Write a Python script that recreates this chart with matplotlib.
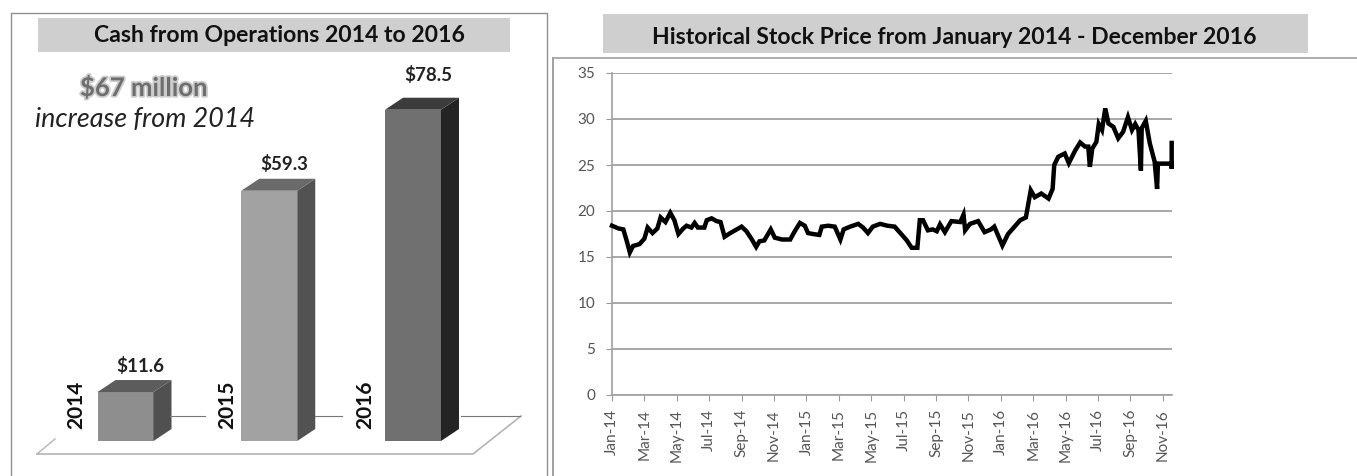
import matplotlib
matplotlib.use('Agg')
import matplotlib.pyplot as plt
import matplotlib.patheffects as pe
from matplotlib.patches import Polygon, Rectangle
from matplotlib.lines import Line2D

W, H = 1357, 476
plt.rcParams['font.family'] = ['Lato', 'DejaVu Sans']

# cash from operations, $ million
years = ['2014', '2015', '2016']
cash = [11.6, 59.3, 78.5]
cash_labels = ['$11.6', '$59.3', '$78.5']

# stock price, x is months since Jan-14
months = [0.0, 0.4, 0.7, 0.9, 1.1, 1.3, 1.7, 2.0, 2.2, 2.5, 2.8, 3.0, 3.3, 3.6, 3.85, 4.1,
          4.4, 4.6, 4.9, 5.1, 5.3, 5.7, 5.85, 6.15, 6.45, 6.7, 6.95, 7.3, 7.7, 8.0, 8.3, 8.6,
          8.9, 9.1, 9.4, 9.8, 10.05, 10.5, 11.0, 11.25, 11.6, 11.9, 12.1, 12.4, 12.8, 12.95,
          13.35, 13.75, 14.1, 14.3, 14.7, 15.2, 15.5, 15.8, 16.1, 16.55, 17.0, 17.45, 17.9,
          18.2, 18.5, 18.85, 19.0, 19.2, 19.5, 19.8, 20.05, 20.25, 20.55, 20.95, 21.5, 21.7,
          21.8, 22.1, 22.6, 23.0, 23.4, 23.6, 24.1, 24.45, 24.9, 25.2, 25.55, 25.85, 26.1,
          26.5, 26.95, 27.2, 27.3, 27.55, 27.95, 28.2, 28.6, 28.9, 29.2, 29.4, 29.5, 29.65,
          29.9, 30.05, 30.25, 30.45, 30.65, 30.95, 31.25, 31.55, 31.85, 32.1, 32.3, 32.5,
          32.65, 32.7, 32.95, 33.2, 33.5, 33.65, 33.7, 34.55, 34.55, 34.55]
price = [18.4, 18.1, 18.0, 16.8, 15.5, 16.2, 16.4, 17.0, 18.2, 17.6, 18.1, 19.3, 18.8, 19.8, 19.0, 17.5,
         18.1, 18.4, 18.2, 18.7, 18.2, 18.2, 19.0, 19.2, 18.9, 18.8, 17.2, 17.6, 18.0, 18.3, 17.8, 17.0,
         16.1, 16.7, 16.8, 18.0, 17.1, 16.9, 16.9, 17.7, 18.7, 18.4, 17.6, 17.5, 17.4, 18.3,
         18.4, 18.3, 16.9, 18.0, 18.3, 18.6, 18.2, 17.6, 18.3, 18.6, 18.4, 18.3, 17.4,
         16.8, 16.0, 16.0, 19.0, 19.0, 17.9, 18.0, 17.8, 18.55, 17.7, 18.9, 18.8, 19.6,
         17.9, 18.6, 18.9, 17.7, 18.0, 18.3, 16.25, 17.5, 18.4, 19.0, 19.3, 22.25, 21.5,
         21.9, 21.35, 22.4, 25.0, 25.9, 26.25, 25.2, 26.6, 27.45, 27.0, 27.0, 24.8, 26.8,
         27.5, 29.45, 28.8, 31.15, 29.5, 29.15, 27.9, 28.6, 30.2, 28.8, 29.45, 28.8,
         24.4, 29.0, 29.8, 27.35, 25.35, 22.4, 25.15, 25.15, 24.6, 27.4]
month_ticks = ['Jan-14', 'Mar-14', 'May-14', 'Jul-14', 'Sep-14', 'Nov-14',
               'Jan-15', 'Mar-15', 'May-15', 'Jul-15', 'Sep-15', 'Nov-15',
               'Jan-16', 'Mar-16', 'May-16', 'Jul-16', 'Sep-16', 'Nov-16']
price_ticks = [0, 5, 10, 15, 20, 25, 30, 35]


def axes_at(left, top, right, bottom):
    # axes from pixel box
    return fig.add_axes([left / W, 1 - bottom / H, (right - left) / W, (bottom - top) / H])


def fx(x):
    return x / W


def fy(y):
    return 1 - y / H


def fig_line(xs, ys, color='#8c8c8c', lw=1.0, zorder=1):
    fig.add_artist(Line2D([fx(x) for x in xs], [fy(y) for y in ys], color=color, lw=lw, zorder=zorder))


fig = plt.figure(figsize=(W / 100, H / 100), dpi=100, facecolor='white')

# title bars
for x0, y0, x1, y1 in [(38, 18, 510, 52), (603, 14, 1308, 53)]:
    fig.add_artist(Rectangle((fx(x0), fy(y1)), (x1 - x0) / W, (y1 - y0) / H, transform=fig.transFigure,
                             facecolor='#cfcfcf', edgecolor='none', zorder=2))
fig.text(fx(279), fy(36), 'Cash from Operations 2014 to 2016', ha='center', va='center',
         fontsize=16.6, fontweight='bold', color='#111111', zorder=3)
fig.text(fx(954), fy(37), 'Historical Stock Price from January 2014 - December 2016', ha='center', va='center',
         fontsize=16.6, fontweight='bold', color='#111111', zorder=3)

# frames
fig_line([11, 11, 547, 547], [476, 13, 13, 476], color='#909090', lw=1.0)
fig_line([553, 553], [476, 58], color='#909090', lw=1.2)
fig_line([553, 1357], [58, 58], color='#a0a0a0', lw=1.2)

# left chart
px_unit = 4.22
px_cat = 143.75
ax = axes_at(11, 13, 547, 476)
ax.set_xlim((11 - 125.5) / px_cat, (547 - 125.5) / px_cat)
ax.set_ylim((441 - 476) / px_unit, (441 - 13) / px_unit)
ax.axis('off')
ax.patch.set_alpha(0)

# floor
fig_line([37, 473, 521], [454, 454, 416], color='#b4b4b4', lw=1.2)
fig_line([37, 55], [454, 439], color='#b4b4b4', lw=1.0)
fig_line([170, 205], [416, 416], color='#777777', lw=0.8)
fig_line([315, 342], [416, 416], color='#777777', lw=0.8)
fig_line([461, 520], [416, 416], color='#777777', lw=0.8)

front_col = ['#8e8e8e', '#a2a2a2', '#707070']
side_col = ['#505050', '#525252', '#242424']
top_col = ['#5c5c5c', '#6a6a6a', '#3c3c3c']
label_gap = [26, 27, 35]
year_gap = [21, 14, 20]
bar_w = 56 / px_cat
dx = 18 / px_cat
dy = 12 / px_unit
for i in range(3):
    x0 = i - bar_w / 2
    x1 = i + bar_w / 2
    v = cash[i]
    ax.add_patch(Polygon([(x0, 0), (x1, 0), (x1, v), (x0, v)], facecolor=front_col[i], edgecolor='none', zorder=3))
    ax.add_patch(Polygon([(x1, 0), (x1 + dx, dy), (x1 + dx, v + dy), (x1, v)], facecolor=side_col[i], edgecolor='none', zorder=3))
    ax.add_patch(Polygon([(x0, v), (x1, v), (x1 + dx, v + dy), (x0 + dx, v + dy)], facecolor=top_col[i], edgecolor='none', zorder=3))
    ax.annotate(cash_labels[i], (i, v), xytext=(15 * 0.72, label_gap[i] * 0.72), textcoords='offset points',
                ha='center', va='center', fontsize=13.5, fontweight='bold', color='#222222', parse_math=False)
    ax.annotate(years[i], (i - bar_w / 2, 0), xytext=(-year_gap[i] * 0.72, 36 * 0.72), textcoords='offset points',
                rotation=90, ha='center', va='center', fontsize=15, fontweight='bold', color='#111111', zorder=4)

fig.text(fx(144), fy(87), '$67 million', ha='center', va='center', fontsize=18.5, fontweight='bold', color='#6e6e6e',
         parse_math=False, path_effects=[pe.withStroke(linewidth=2.5, foreground='#cccccc')])
fig.text(fx(145), fy(120), 'increase from 2014', ha='center', va='center', fontsize=19.4, fontstyle='italic',
         color='#222222')

# right chart
ax2 = axes_at(612, 73, 1172, 395)
ax2.patch.set_alpha(0)
ax2.plot(months, price, color='black', lw=3.2, solid_joinstyle='miter', clip_on=False, zorder=3)
ax2.set_xlim(0, 34.57)
ax2.set_ylim(0, 35)
ax2.set_yticks(price_ticks)
ax2.set_xticks(range(0, 35, 2))
ax2.set_xticklabels(month_ticks, rotation=90, fontsize=11, color='#555555')
ax2.tick_params(axis='y', labelsize=11, labelcolor='#555555', color='#999999', length=4, pad=8)
ax2.tick_params(axis='x', color='#999999', length=4, pad=6)
ax2.yaxis.grid(True, color='#a0a0a0', lw=1.3)
ax2.set_axisbelow(True)
for s in ['top', 'right']:
    ax2.spines[s].set_visible(False)
for s in ['left', 'bottom']:
    ax2.spines[s].set_color('#a0a0a0')
    ax2.spines[s].set_linewidth(1.2)

fig.savefig('out.png', dpi=100)
